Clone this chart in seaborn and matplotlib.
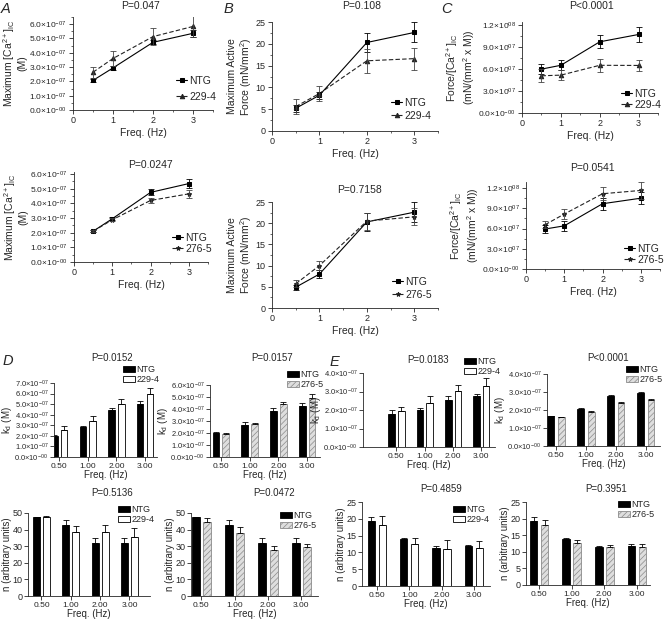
import numpy as np
import pandas as pd
import matplotlib
matplotlib.use('Agg')
import matplotlib.pyplot as plt
import seaborn as sns
from matplotlib.ticker import FuncFormatter, MultipleLocator

# frequencies and tick labels
FREQ = [0.5, 1, 2, 3]
FREQ_LABELS = ['0.50', '1.00', '2.00', '3.00']

# A: maximum [Ca2+]IC (M)
ca_ntg_1 = [2.07e-7, 2.94e-7, 4.73e-7, 5.36e-7]
ca_ntg_1_err = [0.1e-7, 0.12e-7, 0.15e-7, 0.25e-7]
ca_229 = [2.64e-7, 3.6e-7, 5.13e-7, 5.84e-7]
ca_229_err = [0.4e-7, 0.5e-7, 0.6e-7, 0.75e-7]
ca_ntg_2 = [2.1e-7, 2.95e-7, 4.75e-7, 5.35e-7]
ca_ntg_2_err = [0.08e-7, 0.1e-7, 0.2e-7, 0.28e-7]
ca_276 = [2.1e-7, 2.88e-7, 4.2e-7, 4.65e-7]
ca_276_err = [0.05e-7, 0.1e-7, 0.2e-7, 0.25e-7]

# B: maximum active force (mN/mm2)
f_ntg_1 = [5.2, 8.2, 20.3, 22.6]
f_ntg_1_err = [0.8, 0.8, 2.1, 2.3]
f_229 = [5.6, 8.6, 16.1, 16.6]
f_229_err = [1.7, 1.8, 2.8, 2.5]
f_ntg_2 = [4.9, 8.0, 20.3, 22.6]
f_ntg_2_err = [0.6, 0.9, 2.1, 2.4]
f_276 = [5.7, 10.0, 20.5, 21.5]
f_276_err = [0.8, 1.0, 2.0, 2.0]

# C: force / [Ca2+]IC
r_ntg_1 = [5.98e7, 6.5e7, 9.7e7, 10.7e7]
r_ntg_1_err = [0.7e7, 0.7e7, 0.9e7, 1.0e7]
r_229 = [5.07e7, 5.16e7, 6.5e7, 6.48e7]
r_229_err = [0.9e7, 0.7e7, 0.9e7, 0.7e7]
r_ntg_2 = [5.93e7, 6.4e7, 9.68e7, 10.5e7]
r_ntg_2_err = [0.6e7, 0.7e7, 0.9e7, 0.9e7]
r_276 = [6.57e7, 8.15e7, 11.16e7, 11.65e7]
r_276_err = [0.5e7, 0.7e7, 1.0e7, 1.2e7]

# D: kd and n (229-4 / 276-5)
kd_d_ntg_1 = [2.03e-7, 2.84e-7, 4.45e-7, 5.06e-7]
kd_d_ntg_1_err = [0.05e-7, 0.08e-7, 0.15e-7, 0.2e-7]
kd_d_229 = [2.55e-7, 3.39e-7, 4.97e-7, 5.97e-7]
kd_d_229_err = [0.4e-7, 0.45e-7, 0.5e-7, 0.6e-7]
kd_d_ntg_2 = [2.0e-7, 2.7e-7, 3.86e-7, 4.24e-7]
kd_d_ntg_2_err = [0.05e-7, 0.18e-7, 0.25e-7, 0.27e-7]
kd_d_276 = [1.95e-7, 2.78e-7, 4.38e-7, 4.92e-7]
kd_d_276_err = [0.05e-7, 0.06e-7, 0.2e-7, 0.3e-7]
n_d_ntg_1 = [47.5, 43, 32, 32]
n_d_ntg_1_err = [0.3, 2.8, 3, 3]
n_d_229 = [47.8, 38.5, 38.5, 35.5]
n_d_229_err = [0.4, 3.8, 4.3, 5.5]
n_d_ntg_2 = [47.5, 42.8, 32, 32]
n_d_ntg_2_err = [0.3, 3, 3, 3]
n_d_276 = [44.8, 38, 27.7, 29.5]
n_d_276_err = [2.2, 3.7, 2.6, 2]

# E: kd and n
kd_e_ntg_1 = [1.76e-7, 2.0e-7, 2.55e-7, 2.76e-7]
kd_e_ntg_1_err = [0.24e-7, 0.1e-7, 0.18e-7, 0.11e-7]
kd_e_229 = [1.95e-7, 2.36e-7, 3.04e-7, 3.31e-7]
kd_e_229_err = [0.23e-7, 0.4e-7, 0.32e-7, 0.42e-7]
kd_e_ntg_2 = [1.64e-7, 2.05e-7, 2.79e-7, 2.94e-7]
kd_e_ntg_2_err = [0.03e-7, 0.04e-7, 0.05e-7, 0.08e-7]
kd_e_276 = [1.6e-7, 1.9e-7, 2.38e-7, 2.57e-7]
kd_e_276_err = [0.03e-7, 0.03e-7, 0.06e-7, 0.05e-7]
n_e_ntg_1 = [19.4, 13.9, 11.4, 11.8]
n_e_ntg_1_err = [1.1, 0.5, 0.6, 0.5]
n_e_229 = [18.3, 12.4, 11.1, 11.2]
n_e_229_err = [2.4, 2.0, 2.5, 2.3]
n_e_ntg_2 = [19.3, 13.8, 11.3, 11.7]
n_e_ntg_2_err = [1.2, 0.5, 0.5, 0.6]
n_e_276 = [18.2, 12.8, 11.3, 11.5]
n_e_276_err = [1.5, 0.9, 0.6, 0.8]

sns.set_style('ticks')
plt.rcParams.update({
    'font.family': ['Liberation Sans', 'DejaVu Sans'],
    'mathtext.fontset': 'custom',
    'mathtext.rm': 'Liberation Sans',
    'mathtext.it': 'Liberation Sans:italic',
    'mathtext.bf': 'Liberation Sans:bold',
    'axes.linewidth': 0.6,
    'lines.dashed_pattern': [4, 2],
    'hatch.linewidth': 0.5,
})

W, H = 667, 619
fig = plt.figure(figsize=(W / 100, H / 100), dpi=100)


def box(l, t, r, b):
    return [l / W, 1 - b / H, (r - l) / W, (b - t) / H]


def sci_fmt(v, pos):
    if abs(v) < 1e-30:
        return '0.0×10$^{-00}$'
    e = int(np.floor(np.log10(abs(v)) + 1e-9))
    m = v / 10 ** e
    sign = '-' if e < 0 else ''
    return f'{m:.1f}×10$^{{{sign}{abs(e):02d}}}$'


def fig_text(x, y, s, **kw):
    fig.text(x / W, 1 - y / H, s, ha='center', va='center', **kw)


def style_axis(ax, xsize, ysize, pad=1.5):
    sns.despine(ax=ax)
    ax.tick_params(direction='out', length=3, width=0.6, pad=pad)
    ax.tick_params(axis='x', labelsize=xsize)
    ax.tick_params(axis='y', labelsize=ysize)
    ax.tick_params(which='minor', direction='out', length=1.5, width=0.5)


def line_panel(rect, ntg, ntg_err, mut, mut_err, name, mk, ylim, ystep,
               ylabel, leg_xy, sci=True, leg_space=0.3):
    ax = fig.add_axes(box(*rect))
    sns.lineplot(x=FREQ, y=ntg, ax=ax, color='black', marker='s', markersize=3.5,
                 markeredgecolor='black', linewidth=0.8, errorbar=None, label='NTG')
    sns.lineplot(x=FREQ, y=mut, ax=ax, color='#222222', marker=mk, markersize=3.2,
                 markeredgecolor='#222222', linewidth=0.8, linestyle='--',
                 errorbar=None, label=name)
    ax.errorbar(FREQ, ntg, yerr=ntg_err, fmt='none', ecolor='black',
                elinewidth=0.6, capsize=2, capthick=0.6)
    ax.errorbar(FREQ, mut, yerr=mut_err, fmt='none', ecolor='#444444',
                elinewidth=0.6, capsize=2, capthick=0.6)
    ax.set_xlim(0, 3.5)
    ax.set_ylim(*ylim)
    ax.xaxis.set_major_locator(MultipleLocator(1))
    ax.xaxis.set_minor_locator(MultipleLocator(0.5))
    ax.yaxis.set_major_locator(MultipleLocator(ystep))
    ax.yaxis.set_minor_locator(MultipleLocator(ystep / 2))
    if sci:
        ax.yaxis.set_major_formatter(FuncFormatter(sci_fmt))
        style_axis(ax, 6.5, 6)
    else:
        style_axis(ax, 6.5, 6.5)
    ax.set_xlabel('Freq. (Hz)', fontsize=7.5, labelpad=2)
    ax.set_ylabel(ylabel, fontsize=7.5, labelpad=1, linespacing=1.1)
    ax.legend(loc='upper left', bbox_to_anchor=(leg_xy[0] / W, 1 - leg_xy[1] / H),
              bbox_transform=fig.transFigure, frameon=False, fontsize=7.5,
              handlelength=1.1, handletextpad=0.2, labelspacing=leg_space,
              borderpad=0, borderaxespad=0, numpoints=1)
    return ax


def bar_panel(rect, ntg, ntg_err, mut, mut_err, name, xlim, ylim, ystep,
              ylabel, leg_xy, sci=True):
    ax = fig.add_axes(box(*rect))
    df = pd.DataFrame({'freq': FREQ_LABELS * 2,
                       'group': ['NTG'] * 4 + [name] * 4,
                       'value': list(ntg) + list(mut)})
    palette = {'NTG': 'black', '229-4': 'white', '276-5': '#dedede'}
    sns.barplot(data=df, x='freq', y='value', hue='group', order=FREQ_LABELS,
                hue_order=['NTG', name], palette=palette, saturation=1,
                width=0.68, gap=0.32, edgecolor='black', linewidth=0.6,
                errorbar=None, legend=False, ax=ax)
    conts = list(ax.containers[:2])
    if name == '276-5':
        for p in conts[1]:
            p.set_hatch('//////')
            p.set_edgecolor('#8a8a8a')
    for cont, err in zip(conts, [ntg_err, mut_err]):
        xs = [p.get_x() + p.get_width() / 2 for p in cont]
        ys = [p.get_height() for p in cont]
        ax.errorbar(xs, ys, yerr=[np.zeros(len(err)), err], fmt='none',
                    ecolor='black', elinewidth=0.6, capsize=2, capthick=0.6)
    ax.set_xlim(*xlim)
    ax.set_ylim(*ylim)
    ax.yaxis.set_major_locator(MultipleLocator(ystep))
    if sci:
        ax.yaxis.set_major_formatter(FuncFormatter(sci_fmt))
        style_axis(ax, 6, 5.4, pad=1)
    else:
        style_axis(ax, 6, 6.5, pad=1)
    ax.set_xlabel('Freq. (Hz)', fontsize=7, labelpad=0.5)
    ax.set_ylabel(ylabel, fontsize=7, labelpad=0.5)
    ax.legend(handles=[conts[0][0], conts[1][0]], labels=['NTG', name],
              loc='upper left', bbox_to_anchor=(leg_xy[0] / W, 1 - leg_xy[1] / H),
              bbox_transform=fig.transFigure, frameon=False, fontsize=6.5,
              handlelength=1.3, handleheight=0.6, handletextpad=0.2,
              labelspacing=0.15, borderpad=0, borderaxespad=0)
    return ax


ca_label = 'Maximum [Ca$^{2+}$]$_{\\mathrm{IC}}$\n(M)'
force_label = 'Maximum Active\nForce (mN/mm$^2$)'
ratio_label = 'Force/[Ca$^{2+}$]$_{\\mathrm{IC}}$\n(mN/(mm$^2$ x M))'
kd_label = 'k$_{\\mathrm{d}}$ (M)'
n_label = 'n (arbitrary units)'

# top row: line plots
line_panel((73, 17, 213, 110), ca_ntg_1, ca_ntg_1_err, ca_229, ca_229_err, '229-4', '^',
           (0, 6.5e-7), 1e-7, ca_label, (176, 76), leg_space=0.55)
line_panel((74, 172, 208, 262), ca_ntg_2, ca_ntg_2_err, ca_276, ca_276_err, '276-5', '*',
           (0, 6.14e-7), 1e-7, ca_label, (172, 233), leg_space=0.1)
line_panel((272, 22, 438, 131), f_ntg_1, f_ntg_1_err, f_229, f_229_err, '229-4', '^',
           (0, 25), 5, force_label, (391, 98), sci=False, leg_space=0.3)
line_panel((272, 202, 438, 308), f_ntg_2, f_ntg_2_err, f_276, f_276_err, '276-5', '*',
           (0, 25), 5, force_label, (392, 277), sci=False, leg_space=0.3)
line_panel((522, 22, 658, 113), r_ntg_1, r_ntg_1_err, r_229, r_229_err, '229-4', '^',
           (0, 1.24e8), 3e7, ratio_label, (621, 89), leg_space=0.1)
line_panel((526, 182, 660, 269), r_ntg_2, r_ntg_2_err, r_276, r_276_err, '276-5', '*',
           (0, 1.29e8), 3e7, ratio_label, (624, 244), leg_space=0.1)

# bottom: bar charts
bar_panel((54, 383, 157, 457), kd_d_ntg_1, kd_d_ntg_1_err, kd_d_229, kd_d_229_err, '229-4',
          (-0.18, 3.42), (0, 7e-7), 1e-7, kd_label, (123, 365))
bar_panel((210, 385, 320, 457), kd_d_ntg_2, kd_d_ntg_2_err, kd_d_276, kd_d_276_err, '276-5',
          (-0.38, 3.45), (0, 6e-7), 1e-7, kd_label, (287, 370))
bar_panel((28, 513, 150, 596), n_d_ntg_1, n_d_ntg_1_err, n_d_229, n_d_229_err, '229-4',
          (-0.46, 3.7), (0, 50), 10, n_label, (118, 505), sci=False)
bar_panel((191, 513, 318, 596), n_d_ntg_2, n_d_ntg_2_err, n_d_276, n_d_276_err, '276-5',
          (-0.31, 3.5), (0, 50), 10, n_label, (280, 511), sci=False)
bar_panel((363, 373, 495, 447), kd_e_ntg_1, kd_e_ntg_1_err, kd_e_229, kd_e_229_err, '229-4',
          (-1.18, 3.48), (0, 4e-7), 1e-7, kd_label, (464, 357))
bar_panel((547, 374, 660, 446), kd_e_ntg_2, kd_e_ntg_2_err, kd_e_276, kd_e_276_err, '276-5',
          (-0.3, 3.47), (0, 4e-7), 1e-7, kd_label, (626, 365))
bar_panel((362, 502, 490, 586), n_e_ntg_1, n_e_ntg_1_err, n_e_229, n_e_229_err, '229-4',
          (-0.46, 3.5), (0, 25), 5, n_label, (453, 505), sci=False)
bar_panel((526, 502, 650, 585), n_e_ntg_2, n_e_ntg_2_err, n_e_276, n_e_276_err, '276-5',
          (-0.4, 3.4), (0, 25), 5, n_label, (618, 500), sci=False)

# p-values
for x, y, s in [(140, 6, 'P=0.047'), (150, 165, 'P=0.0247'),
                (362, 6, 'P=0.108'), (360, 190, 'P=0.7158'),
                (592, 6, 'P<0.0001'), (592, 168, 'P=0.0541')]:
    fig_text(x, y, s, fontsize=7.5)
for x, y, s in [(112, 358, 'P=0.0152'), (272, 358, 'P=0.0157'),
                (428, 360, 'P=0.0183'), (608, 358, 'P<0.0001'),
                (112, 493, 'P=0.5136'), (274, 493, 'P=0.0472'),
                (441, 489, 'P=0.4859'), (606, 489, 'P=0.3951')]:
    fig_text(x, y, s, fontsize=7)

# panel letters
for x, y, s in [(6, 9, 'A'), (228, 9, 'B'), (447, 9, 'C'), (8, 361, 'D'), (334, 362, 'E')]:
    fig_text(x, y, s, fontsize=10.5, style='italic')

fig.savefig('out.png', dpi=100)
